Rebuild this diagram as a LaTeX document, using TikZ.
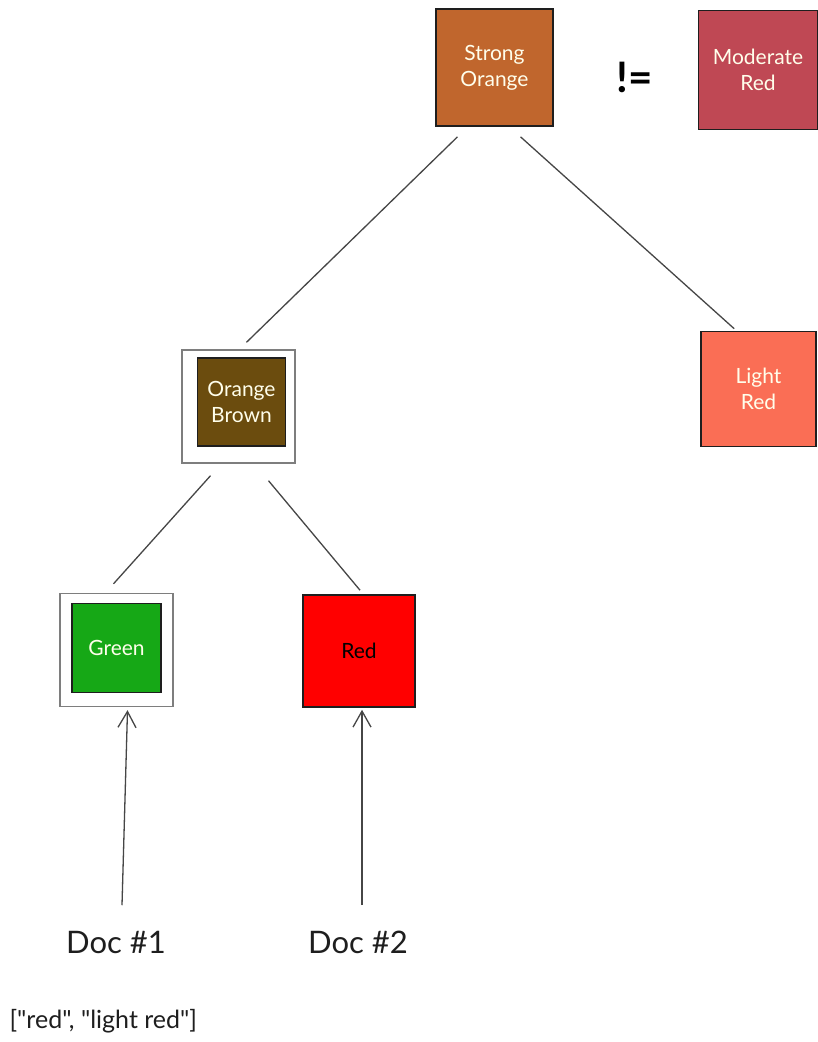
\documentclass[tikz,border=0pt]{standalone}
\usepackage{fontspec}
\setmainfont{Lato}[Ligatures=TeXOff]
\usetikzlibrary{arrows.meta,calc}
\definecolor{strongorange}{RGB}{192,102,45}
\definecolor{moderatered}{RGB}{191,72,84}
\definecolor{orangebrown}{RGB}{107,76,14}
\definecolor{lightred}{RGB}{250,110,85}
\definecolor{leafgreen}{RGB}{22,168,22}
\definecolor{purered}{RGB}{255,0,0}
\definecolor{ink}{RGB}{30,30,30}
\definecolor{edge}{RGB}{70,70,70}
\begin{document}
\begin{tikzpicture}[x=1pt,y=-1pt,
  colorbox/.style={draw=ink,line width=1.6pt,minimum width=#1,minimum height=#1,
    inner sep=0pt,align=center,font=\fontsize{21}{26}\selectfont,text=white!92!yellow},
  framebox/.style={draw=edge!70,line width=1.4pt,fill=white,minimum width=#1,minimum height=#1,inner sep=0pt},
  branch/.style={draw=edge,line width=1.3pt},
  pointer/.style={draw=edge,line width=1.3pt,-{Straight Barb[length=16pt,width=18pt,line width=1.3pt]}},
  doclabel/.style={font=\fontsize{31}{36}\selectfont,text=ink},
  note/.style={font=\fontsize{25}{30}\selectfont,text=ink,anchor=west}]
\useasboundingbox[fill=white] (0,0) rectangle (818,1042);

% top level: the two compared colours
\node[colorbox=117pt,fill=strongorange] (so) at (494.5,67.5) {Strong\\Orange};
\node[colorbox=119pt,fill=moderatered] (mr) at (758,70) {Moderate\\Red};
\node[font=\fontsize{42}{42}\selectfont\bfseries,text=black] (neq) at (635,77) {!=};

% second level
\node[framebox=113pt] (obf) at (238.5,406.5) {};
\node[colorbox=88pt,fill=orangebrown] (ob) at (241.5,402) {Orange\\Brown};
\node[colorbox=115pt,fill=lightred] (lr) at (758.5,389) {Light\\Red};

% leaves
\node[framebox=113pt] (gf) at (116.5,650) {};
\node[colorbox=89pt,fill=leafgreen] (g) at (116.5,648) {Green};
\node[colorbox=112pt,fill=purered,text=black] (r) at (359,651) {Red};

% documents
\node[doclabel] (d1) at (116,942) {Doc \#1};
\node[doclabel] (d2) at (358,942) {Doc \#2};
\node[note] (lst) at (6,1021) {["red", "light red"]};

% tree branches
\draw[branch] ($(so.south)+(-37,10)$) -- ($(obf.north)+(8,-7)$);
\draw[branch] ($(so.south)+(26,10)$) -- ($(lr.north west)+(34,-2)$);
\draw[branch] ($(obf.south)+(-28,12)$) -- ($(gf.north)+(-3,-9)$);
\draw[branch] ($(obf.south)+(30,17)$) -- ($(r.north)+(1,-4)$);

% documents point at their matching colours
\draw[pointer] ($(d1.north)+(6,-22)$) -- ($(gf.south)+(11,3)$);
\draw[pointer] ($(d2.north)+(4,-22)$) -- ($(r.south)+(3,2)$);
\end{tikzpicture}
\end{document}
